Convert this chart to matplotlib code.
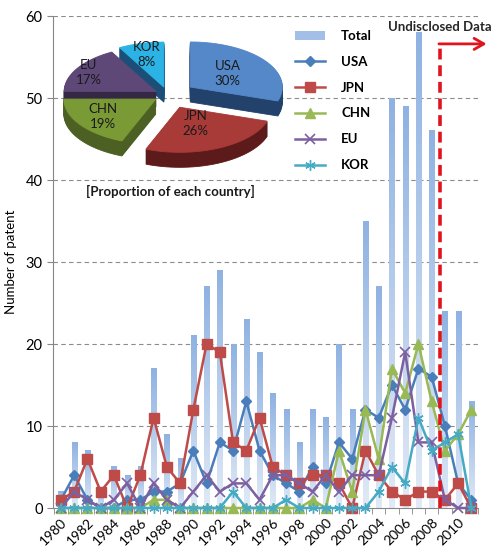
import numpy as np
from matplotlib import pyplot as plt
from matplotlib.colors import LinearSegmentedColormap
from matplotlib.patches import Polygon

plt.rcParams["font.family"] = ["Lato", "DejaVu Sans"]

# patents per year
years = list(range(1980, 2012))
total = [2, 8, 7, 2, 5, 4, 5, 17, 9, 6, 21, 27, 29, 20, 23, 19, 14, 12, 8, 12,
         11, 20, 12, 35, 27, 50, 49, 58, 46, 24, 24, 13]
usa = [1, 4, 1, 0, 0, 1, 1, 2, 2, 3, 7, 3, 8, 7, 13, 7, 4, 3, 2, 5,
       3, 8, 6, 12, 11, 15, 12, 17, 16, 10, 3, 1]
jpn = [1, 2, 6, 2, 4, 0, 4, 11, 5, 3, 12, 20, 19, 8, 7, 11, 5, 4, 3, 4,
       4, 3, 0, 7, 4, 2, 1, 2, 2, 1, 3, 0]
chn = [0, 0, 0, 0, 0, 0, 0, 1, 1, 0, 0, 0, 0, 0, 0, 0, 0, 0, 0, 1,
       0, 7, 2, 12, 6, 17, 14, 20, 13, 7, 9, 12]
eu = [0, 2, 1, 0, 1, 3, 0, 3, 1, 0, 2, 4, 2, 3, 3, 1, 4, 4, 3, 2,
      4, 2, 4, 4, 4, 11, 19, 8, 8, 1, 0, 0]
kor = [0, 0, 0, 0, 0, 0, 0, 0, 0, 0, 0, 0, 0, 2, 0, 0, 0, 1, 0, 0,
       0, 0, 0, 0, 2, 5, 3, 11, 7, 8, 9, 0]

countries = ["USA", "JPN", "CHN", "EU", "KOR"]
shares = [30, 26, 19, 17, 8]  # percent of all patents

undisclosed_from = 2008.6

line_styles = {
    "USA": dict(color="#4A7EBB", marker="D", ms=5.5),
    "JPN": dict(color="#BE4B48", marker="s", ms=7.5),
    "CHN": dict(color="#98B954", marker="^", ms=6.5),
    "EU": dict(color="#7D60A0", marker="x", ms=6.5, mew=1.2),
    "KOR": dict(color="#46AAC5", marker=(6, 2, 0), ms=7.5, mew=1.0),
}
pie_top = ["#5588C8", "#A83A38", "#7A9A36", "#5E4878", "#2BB3E6"]
pie_side = ["#22416B", "#5C1B1A", "#4B6022", "#342845", "#1C4F78"]

fig = plt.figure(figsize=(4.92, 5.47), dpi=100)
ax = fig.add_axes([53 / 492, 1 - 508 / 547, 425 / 492, 492 / 547])

# total bars with a vertical gradient
bar_w = 0.38
bars = ax.bar(years, total, width=bar_w, color="#A3BFE7", label="Total", zorder=2)
grad_cmap = LinearSegmentedColormap.from_list("bar", ["#E1EAF6", "#8FB2E2"])
grad = np.linspace(0, 1, 128).reshape(-1, 1)
for b in bars:
    x0, h = b.get_x(), b.get_height()
    if h <= 0:
        continue
    ax.imshow(grad, cmap=grad_cmap, origin="lower", aspect="auto",
              extent=[x0, x0 + bar_w, 0, h], zorder=2.1)

series = {"USA": usa, "JPN": jpn, "CHN": chn, "EU": eu, "KOR": kor}
for name in countries:
    st = dict(line_styles[name])
    c = st.pop("color")
    ax.plot(years, series[name], color=c, lw=1.8, mec=c, mfc=c, label=name,
            zorder=4, clip_on=False, **st)

ax.set_xlim(1979.4, 2011.45)
ax.set_ylim(0, 60)
ax.set_yticks(range(0, 61, 10))
for v in range(10, 61, 10):
    ax.axhline(v, color="#8C8C8C", lw=0.8, ls=(0, (4, 3)), zorder=1)

ax.set_xticks(years[::2])
ax.set_xticklabels(years[::2], rotation=45, ha="right", rotation_mode="anchor")
ax.set_xticks([y - 0.5 for y in years] + [years[-1] + 0.5], minor=True)
ax.tick_params(axis="x", which="major", length=0, pad=6, labelsize=10)
ax.tick_params(axis="x", which="minor", length=4, color="#868686")
ax.tick_params(axis="y", length=4, color="#868686", labelsize=10.5)
for s in ["top", "right"]:
    ax.spines[s].set_visible(False)
for s in ["left", "bottom"]:
    ax.spines[s].set_color("#868686")
ax.set_ylabel("Number of patent", fontsize=9.5, labelpad=6)

# undisclosed region marker
red = "#E0141E"
ax.plot([undisclosed_from, undisclosed_from], [0, 56.6], color=red, lw=2.6,
        ls=(0, (3, 1.6)), zorder=5, clip_on=False)
ax.annotate("", xy=(2012.15, 56.6), xytext=(undisclosed_from - 0.05, 56.6),
            arrowprops=dict(arrowstyle="->,head_length=0.7,head_width=0.4",
                            color=red, lw=2, shrinkA=0, shrinkB=0),
            annotation_clip=False, zorder=5)
ax.text(undisclosed_from, 58.6, "Undisclosed Data", ha="center", va="center",
        fontsize=9.5, fontweight="bold", color="#262626")

# legend with Total first
handles, labels = ax.get_legend_handles_labels()
order = [labels.index("Total")] + [labels.index(n) for n in countries]
ax.legend([handles[i] for i in order], [labels[i] for i in order],
          loc="upper left", bbox_to_anchor=(283 / 492, 1 - 18 / 547),
          bbox_transform=fig.transFigure, frameon=False,
          handlelength=2.3, handletextpad=1.2, labelspacing=1.05,
          prop=dict(weight="bold", size=9.5))

# exploded 3-D style pie in pixel coordinates
pax = fig.add_axes([0, 0, 1, 1], zorder=3)
pax.set_xlim(0, 492)
pax.set_ylim(547, 0)
pax.axis("off")

cx, cy, R, k, depth = 168, 95, 92, 0.49, 15
explode = [0.30, 0.30, 0.16, 0.15, 0.18]
label_r = [0.5, 0.4, 0.7, 0.85, 0.75]

wedges = []
a = 90.0
for i, sh in enumerate(shares):
    a1, a2 = a, a - 3.6 * sh
    a = a2
    mid = np.radians((a1 + a2) / 2)
    wx = cx + explode[i] * R * np.cos(mid)
    wy = cy - explode[i] * k * R * np.sin(mid)
    t = np.radians(np.linspace(a1, a2, 80))
    pts = np.column_stack([wx + R * np.cos(t), wy - k * R * np.sin(t)])
    pts = np.vstack([[wx, wy], pts])
    wedges.append((wy, i, pts, mid, wx))

for wy, i, pts, mid, wx in sorted(wedges, key=lambda w: w[0]):
    for d in np.linspace(depth, 1, 15):
        pax.add_patch(Polygon(pts + [0, d], closed=True, fc=pie_side[i],
                              ec=pie_side[i], lw=0.6))
    pax.add_patch(Polygon(pts, closed=True, fc=pie_top[i], ec=pie_top[i], lw=0.6))
    lx = wx + label_r[i] * R * np.cos(mid)
    ly = wy - label_r[i] * k * R * np.sin(mid)
    pax.text(lx, ly, f"{countries[i]}\n{shares[i]}%", ha="center", va="center",
             fontsize=9.5, color="#1A1A1A", linespacing=1.3)

pax.text(170, 191, "[Proportion of each country]", ha="center", va="center",
         fontsize=9.5, fontweight="bold", color="#1A1A1A")

fig.savefig("out.png", dpi=100)
